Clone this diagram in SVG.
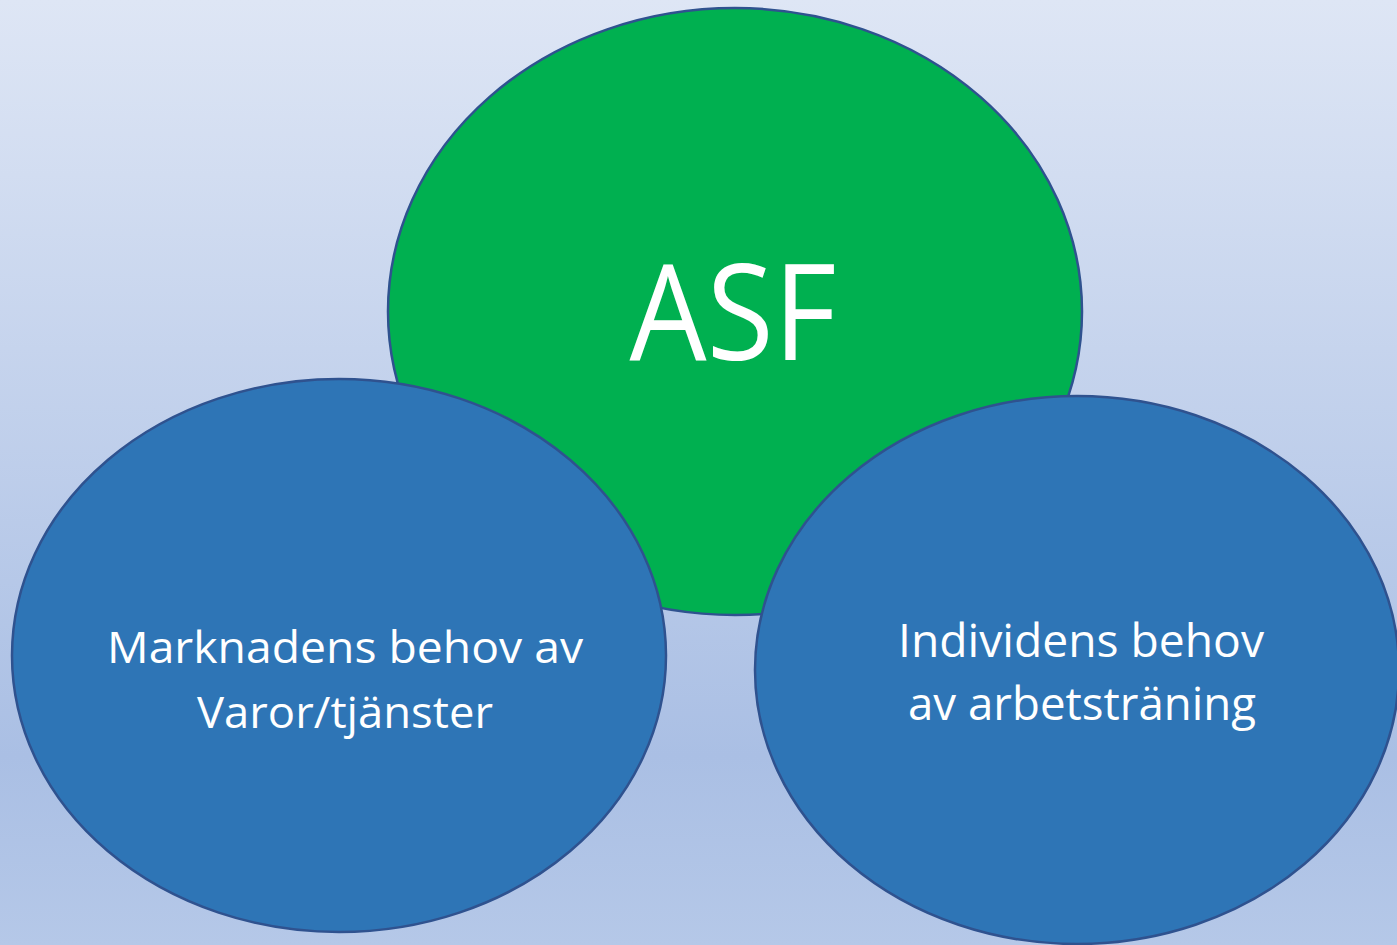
<svg xmlns="http://www.w3.org/2000/svg" width="1397" height="945" viewBox="0 0 1397 945">
<defs>
<linearGradient id="bg" x1="0" y1="0" x2="0" y2="1">
<stop offset="0" stop-color="#dee6f5"/>
<stop offset="0.8" stop-color="#aabfe4"/>
<stop offset="1" stop-color="#b5c8e8"/>
</linearGradient>
</defs>
<style>
.el{stroke:#2f528f;stroke-width:2.5}
.green{fill:#00b050}
.blue{fill:#2e75b6}
.t{font-family:"Open Sans","Liberation Sans",sans-serif;fill:#ffffff;text-anchor:middle}
</style>
<rect width="1397" height="945" fill="url(#bg)"/>
<g id="asf">
<ellipse class="el green" cx="735" cy="311.5" rx="347" ry="303.5"/>
<text class="t" x="733" y="360" font-size="133" textLength="207" lengthAdjust="spacingAndGlyphs">ASF</text>
</g>
<g id="marknad">
<ellipse class="el blue" cx="339" cy="655.5" rx="327" ry="276.5"/>
<text class="t" x="345" y="663" font-size="44" textLength="476" lengthAdjust="spacingAndGlyphs">Marknadens behov av</text>
<text class="t" x="345" y="728" font-size="44" textLength="296" lengthAdjust="spacingAndGlyphs">Varor/tjänster</text>
</g>
<g id="individ">
<ellipse class="el blue" cx="1077" cy="670" rx="322" ry="274"/>
<text class="t" x="1081" y="657" font-size="45" textLength="366" lengthAdjust="spacingAndGlyphs">Individens behov</text>
<text class="t" x="1082" y="720" font-size="45" textLength="348" lengthAdjust="spacingAndGlyphs">av arbetsträning</text>
</g>
<g id="connectors"/>
</svg>
